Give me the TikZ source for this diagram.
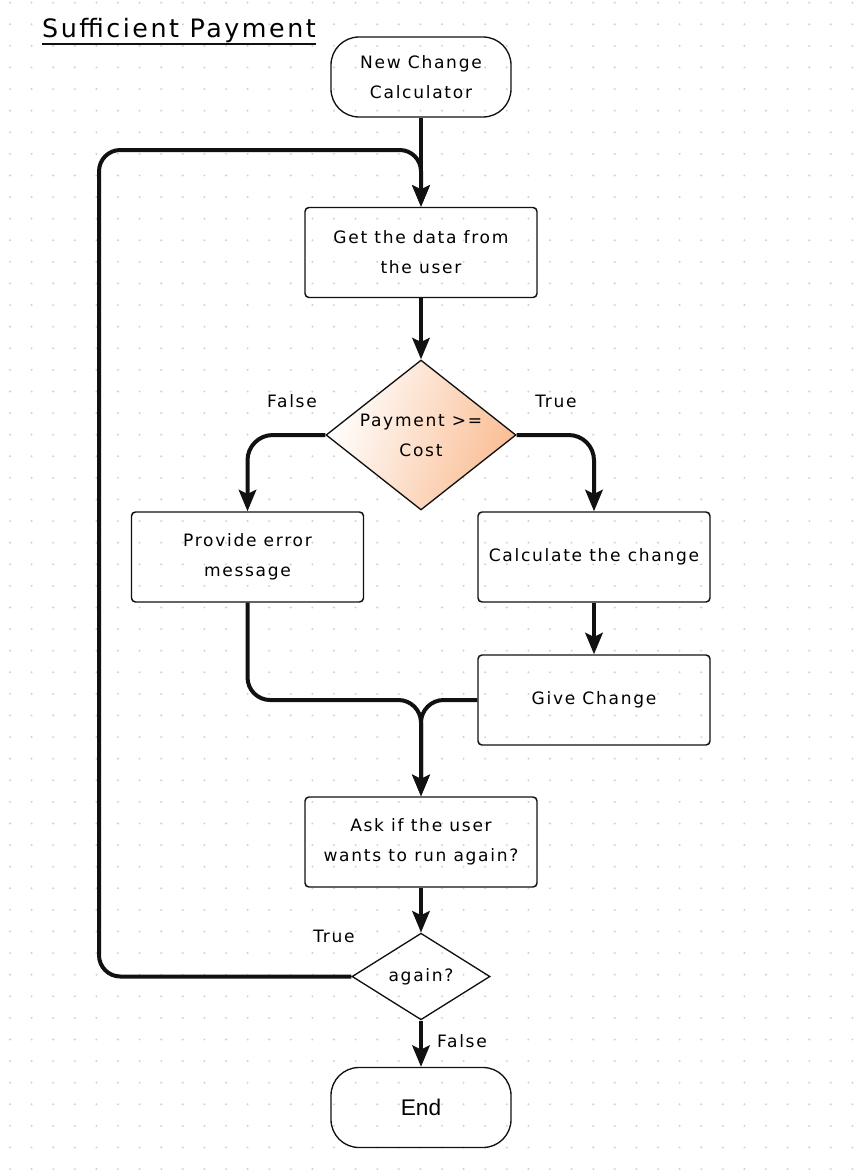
\documentclass[tikz,border=0pt]{standalone}
\usepackage{fontspec}
\usepackage{xcolor}
\usetikzlibrary{arrows.meta,positioning,calc,shapes.geometric}
\newfontfamily\hand[LetterSpace=10]{DejaVu Sans}
\newfontfamily\plain{Liberation Sans}
\definecolor{Ink}{HTML}{111111}
\definecolor{Dot}{HTML}{CFCFCF}
\definecolor{Peach}{HTML}{FABD93}
\newcommand{\handtext}{\hand\fontsize{12.8}{22.5}\selectfont}
\tikzset{
  flow/.style={Ink, line width=3pt, -{Stealth[length=16pt,width=13pt,inset=3pt]}},
  stepbox/.style={draw=Ink, line width=1.1pt, rounded corners=3pt, minimum width=174pt,
    minimum height=67.5pt, align=center, font=\handtext},
  term/.style={draw=Ink, line width=1pt, rounded corners=21pt, minimum width=135pt,
    minimum height=60pt, align=center, font=\handtext},
  decide/.style={diamond, draw=Ink, line width=1pt, inner sep=0pt, align=center, font=\handtext},
  tag/.style={inner sep=0pt, font=\hand\fontsize{12.8}{14}\selectfont},
}

\begin{document}
\begin{tikzpicture}[x=0.75pt, y=-0.75pt]
    \useasboundingbox (0,0) rectangle (856,1174);
    \fill[white] (0,0) rectangle (856,1174);
    % dotted paper
    \foreach \i in {0,...,39}
      \foreach \j in {0,...,54}
        \fill[Dot] ({10+21.6*\i},{2.7+21.6*\j}) circle (0.8pt);

    \node[inner sep=0pt, font=\hand\fontsize{19}{21}\selectfont] (title) at (179,31) {Sufficient Payment};
    \draw[Ink, line width=1.2pt] ([yshift=-4.5pt]title.base west) -- ([yshift=-4.5pt]title.base east);

    \node[term] (start) at (421,77) {New Change\\Calculator};
    \node[stepbox] (data) at (421,252.5) {Get the data from\\the user};
    \node[decide, aspect=1.27, minimum width=142.5pt, minimum height=112.5pt,
      left color=white, right color=Peach, shading angle=70] (pay) at (421,435) {Payment >=\\Cost};
    \node[stepbox] (err) at (247.5,557) {Provide error\\message};
    \node[stepbox] (calc) at (594,557) {Calculate the change};
    \node[stepbox] (give) at (594,700) {Give Change};
    \node[stepbox] (ask) at (421,842) {Ask if the user\\wants to run again?};
    \node[decide, aspect=1.6, minimum width=103.5pt, minimum height=65pt] (again) at (421,976.5) {again?};
    \node[term, font=\plain\fontsize{17}{20}\selectfont] (end) at (421,1107.5) {End};

    \node[tag] (lfalse) at (292,401) {False};
    \node[tag] (ltrue) at (556,401) {True};
    \node[tag] (rtrue) at (334,936) {True};
    \node[tag] (rfalse) at (462,1041) {False};

    \coordinate (loop) at (99,150);
    \coordinate (mrg) at (ask.north |- give.west);

    \draw[flow] (start) -- (data);
    \draw[flow, rounded corners=16pt] (again.west) -| (loop) -| (data.north);
    \draw[flow] (data) -- (pay);
    \draw[flow, rounded corners=19pt] (pay.west) -| (err.north);
    \draw[flow, rounded corners=19pt] (pay.east) -| (calc.north);
    \draw[flow] (calc) -- (give);
    \draw[flow, rounded corners=17pt] (err.south) |- (mrg) -- (ask.north);
    \draw[flow, rounded corners=17pt] (give.west) -- (mrg) -- (ask.north);
    \draw[flow] (ask) -- (again);
    \draw[flow] (again) -- (end);
  \end{tikzpicture}
\end{document}
